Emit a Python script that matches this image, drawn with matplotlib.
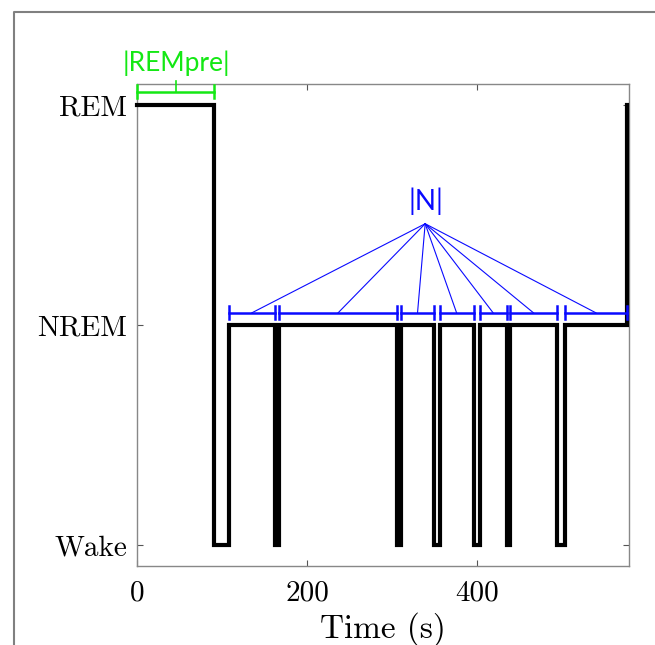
import matplotlib
matplotlib.use("Agg")
import matplotlib.pyplot as plt
from matplotlib.lines import Line2D

# ---- data ----
stage_times = [0, 91, 108, 162, 167, 306, 311, 349, 356, 396, 403, 435, 439, 494, 503, 577]
stage_codes = [2, 0, 1, 0, 1, 0, 1, 0, 1, 0, 1, 0, 1, 0, 1, 2]
stage_names = ["Wake", "NREM", "REM"]
x_ticks = [0, 200, 400]
x_label = "Time (s)"
rempre_label = "|REMpre|"
n_label = "|N|"
fan_apex = (339, 1.46)

fig = plt.figure(figsize=(6.55, 6.45), dpi=100)
ax = fig.add_axes([0.2092, 0.1225, 0.7511, 0.7473])

ax.plot(stage_times, stage_codes, drawstyle="steps-post", color="black",
        lw=3.0, solid_joinstyle="miter", zorder=3, clip_on=False)

ax.set_xlim(0, 578.8)
ax.set_ylim(-0.095, 2.095)

serif = "cmr10"
ax.set_xticks(x_ticks)
ax.set_xticklabels([str(v) for v in x_ticks], fontfamily=serif, fontsize=21)
ax.set_yticks([0, 1, 2])
ax.set_yticklabels(stage_names, fontfamily=serif, fontsize=21)
ax.set_xlabel(x_label, fontfamily=serif, fontsize=24, labelpad=4)
ax.tick_params(direction="in", top=True, right=True, length=4, width=0.8,
               color="#555555")
ax.tick_params(axis="x", pad=10)
ax.tick_params(axis="y", pad=7)
for s in ax.spines.values():
    s.set_color("#888888")
    s.set_linewidth(1.0)

# NREM bouts
bouts = [(stage_times[i], stage_times[i + 1])
         for i in range(len(stage_codes) - 1) if stage_codes[i] == 1]
blue = "#0a0aff"
by = 1.055
cap = 0.03
for a, b in bouts:
    ax.plot([a, b], [by, by], color=blue, lw=1.8, zorder=4, clip_on=False)
    ax.plot([a, a], [by - cap, by + cap], color=blue, lw=1.8, zorder=4, clip_on=False)
    ax.plot([b, b], [by - cap, by + cap], color=blue, lw=1.8, zorder=4, clip_on=False)
    ax.plot([fan_apex[0], (a + b) / 2], [fan_apex[1], by], color=blue,
            lw=0.8, zorder=4)
ax.text(fan_apex[0] + 1, fan_apex[1] + 0.1, n_label, color=blue,
        fontfamily="Lato", fontsize=20, ha="center", va="center")

# REMpre
green = "#14e814"
rem_end = stage_times[1]
gy = 2.06
ax.plot([0, rem_end], [gy, gy], color=green, lw=1.8, zorder=4, clip_on=False)
ax.plot([0, 0], [gy - cap, gy + cap], color=green, lw=1.8, zorder=4, clip_on=False)
ax.plot([rem_end, rem_end], [gy - cap, gy + cap], color=green, lw=1.8, zorder=4, clip_on=False)
ax.plot([rem_end / 2, rem_end / 2], [gy, gy + 0.047], color=green, lw=1.2,
        zorder=4, clip_on=False)
ax.text(rem_end / 2 + 1, 2.19, rempre_label, color=green, fontfamily="Lato",
        fontsize=19, ha="center", va="center")

# outer frame (top and left edges)
fig.add_artist(Line2D([14 / 655, 14 / 655, 1.0], [0.0, 1 - 12 / 645, 1 - 12 / 645],
                      transform=fig.transFigure, color="#808080", lw=1.5))

fig.savefig("out.png", dpi=100)
